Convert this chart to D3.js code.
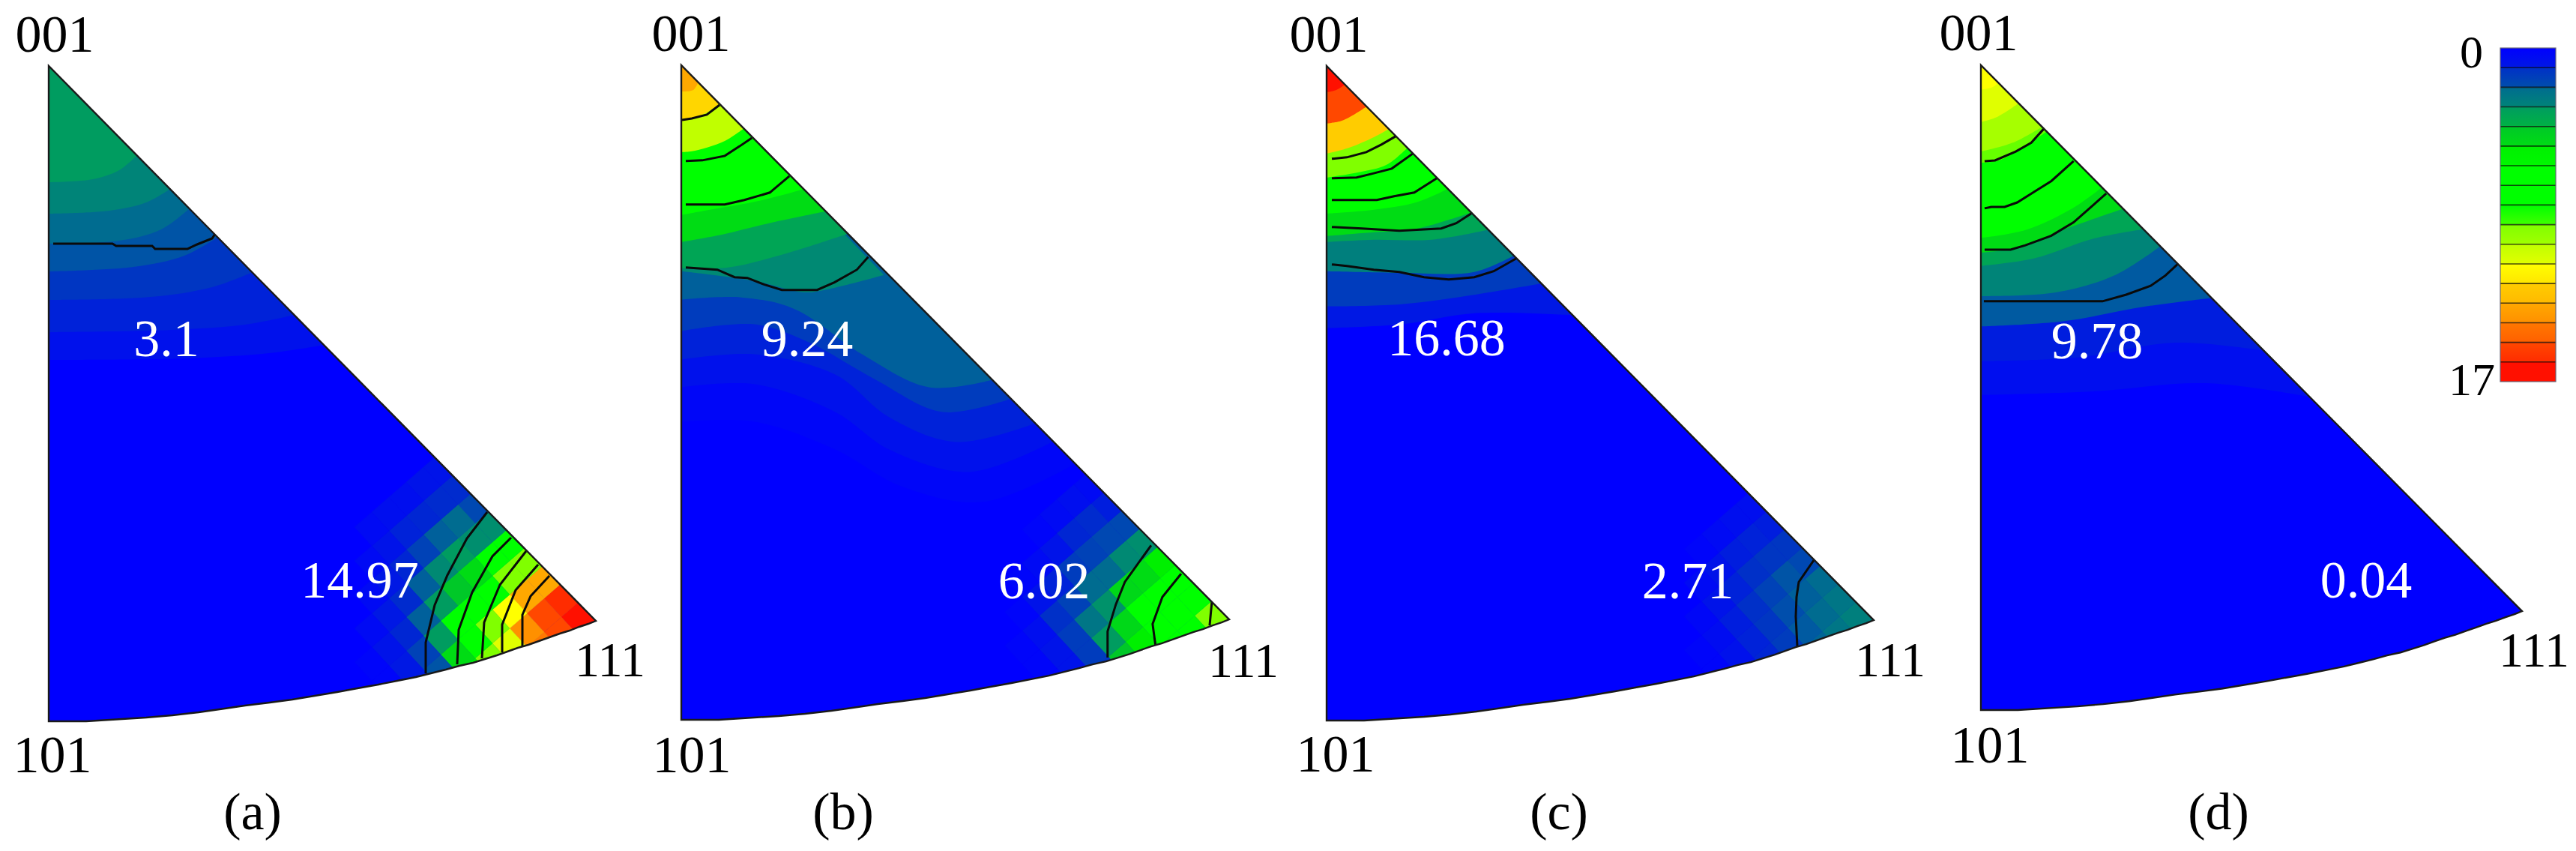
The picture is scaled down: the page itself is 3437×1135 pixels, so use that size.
<!DOCTYPE html>
<html>
<head>
<meta charset="utf-8">
<script src="https://cdnjs.cloudflare.com/ajax/libs/d3/7.8.5/d3.min.js"></script>
<style>
  html, body { margin: 0; padding: 0; background: #fff; }
  text { font-family: "Liberation Serif", serif; }
</style>
</head>
<body>
<div id="canvas"></div>
<script>
// colour key, level 0 at the top
var paletteColors = ["#0000ff","#0030c8","#006c90","#009c60","#00c828","#00f000","#00ff00","#00ff00","#00ff00","#80ff00","#c0ff00","#ffff00","#ffcc00","#ffa800","#ff7800","#ff4800","#ff1000"];
var keyLabels = ["0", "17"];

var panelNames = ["(a)", "(b)", "(c)", "(d)"];
var topValues = ["3.1", "9.24", "16.68", "9.78"];
var cornerValues = ["14.97", "6.02", "2.71", "0.04"];
var poleNames = ["001", "101", "111"];

// lower edge of the triangle, same for every panel
var lowerEdge = [[0,874],[50,874],[130,869],[165,866],[200,862],[235,857],[262,853],[295,849],[325,845],[355,840],[385,835],[412,830],[440,825],[465,820],[490,815],[510,810],[530,805],[548,800],[566,796],[582,791],[598,786],[612,781],[626,776],[640,772],[654,767],[668,762],[682,757],[695,753],[708,748],[720,744],[730,740]];

// bands around 001: [level, boundary from the left edge to the diagonal]
var bandsA = [
  [0.35,[[0,392],[184,390],[294,383],[368,372]]],
  [0.7,[[0,355],[164,352],[262,345],[328,332]]],
  [1.1,[[0,312],[136,308],[218,295],[272,275]]],
  [1.6,[[0,274],[113,268],[181,253],[226,228]]],
  [2.0,[[0,237],[94,233],[150,218],[188,190]]],
  [2.5,[[0,197],[81,193],[130,182],[162,164]]],
  [3.0,[[0,155],[59,151],[94,139],[118,119]]]
];
var bandsB = [
  [0.12,[[0,476],[98,476],[205,513],[295,563],[402,583],[525,532]]],
  [0.35,[[0,430],[98,426],[205,463],[277,513],[384,543],[496,502]]],
  [0.7,[[0,393],[98,386],[205,413],[277,470],[366,503],[472,478]]],
  [1.2,[[0,355],[98,346],[170,370],[259,420],[348,463],[440,445]]],
  [1.8,[[0,313],[80,310],[152,326],[241,386],[330,430],[415,420]]],
  [2.6,[[0,275],[98,288],[162,303],[191,300],[270,280]]],
  [3.2,[[0,271],[62,270],[134,253],[222,225]]],
  [4.5,[[0,236],[55,226],[121,210],[193,195]]],
  [7,[[0,200],[38,193],[104,181],[165,165]]],
  [10,[[0,116],[14,115],[58,101],[85,83]]],
  [11.8,[[0,75],[24,68],[53,50]]],
  [13,[[0,35],[16,33],[23,22]]]
];
var bandsC = [
  [0.5,[[0,350],[100,345],[200,330],[332,333]]],
  [1.2,[[0,321],[100,318],[200,305],[289,290]]],
  [2.4,[[0,274],[97,276],[197,275],[252,252]]],
  [3.2,[[0,235],[63,232],[140,232],[219,218]]],
  [4.5,[[0,227],[63,222],[117,218],[195,195]]],
  [7,[[0,197],[63,192],[120,182],[164,163]]],
  [9,[[0,149],[43,142],[80,132],[109,108]]],
  [12,[[0,117],[30,109],[63,95],[85,83]]],
  [15,[[0,77],[23,72],[55,53]]],
  [16,[[0,35],[13,32],[27,23]]]
];
var bandsD = [
  [0.3,[[0,447],[152,442],[303,431],[446,450]]],
  [0.6,[[0,401],[131,396],[263,376],[384,387]]],
  [1.7,[[0,354],[111,347],[222,327],[315,315]]],
  [2.5,[[0,313],[101,308],[182,284],[244,244]]],
  [3.2,[[0,272],[71,262],[152,235],[220,222]]],
  [4.5,[[0,254],[51,247],[111,223],[193,194]]],
  [7,[[0,234],[61,223],[125,193],[164,165]]],
  [8.8,[[0,132],[27,128],[90,89]]],
  [9.6,[[0,117],[43,105],[85,82]]],
  [10.5,[[0,77],[20,71],[53,50]]],
  [11,[[0,33],[15,30],[26,22]]]
];

// levels of the mosaic cells around 111, rows along the diagonal
var cornerA = [
  [16,15,14,11,8,5,2,0.8,0.2],
  [15.5,15,13.5,10.5,9,5,1.8,0.7,0.2],
  [13,13,11,9,8,4.5,1.6,0.6,0.1],
  [9,9,7,7,7,3,1.3,0.5,0.1],
  [7,7,4.5,4,3,1.8,0.8,0.4,0.1],
  [2.7,2.7,3,2.6,1.8,0.9,0.5,0.2,0],
  [1.4,2,1.8,1.3,0.8,0.5,0.2,0,0],
  [0.9,0.9,0.8,0.7,0.4,0.2,0,0,0],
  [0.4,0.4,0.3,0.3,0.2,0,0,0,0]
];
var cornerB = [
  [9,7,7,5,3,1.1,0.4,0.1],
  [8,8,7,5,4,1.1,0.4,0.1],
  [7,7.5,6,4.4,3,1.2,0.4,0.1],
  [5,4.5,4.4,2.8,2.2,1.2,0.4,0.1],
  [2.7,2.6,2,2,1.3,1,0.3,0.1],
  [1.4,1.4,1.3,1.2,0.7,0.4,0.1,0],
  [0.6,0.9,0.8,0.4,0.2,0.1,0,0],
  [0.2,0.3,0.2,0.1,0,0,0,0]
];
var cornerC = [
  [2.4,2.2,1.9,1.3,0.8,0.4,0.15],
  [2.2,2,1.7,1.2,0.8,0.4,0.15],
  [2,1.8,1.5,1.1,0.7,0.35,0.1],
  [1.4,1.6,1.3,1,0.6,0.25,0.1],
  [1.1,1.1,1,0.7,0.4,0.15,0],
  [0.6,0.7,0.6,0.4,0.2,0,0],
  [0.3,0.3,0.2,0.1,0,0,0]
];
var cornerD = [];

// contour lines
var linesA = [
  [[6,237],[85,237],[90,240],[138,240],[142,244],[185,244],[198,238],[218,230],[222,224]],
  [[503,810],[503,769],[515,719],[532,679],[558,630],[585,595]],
  [[545,798],[547,752],[565,702],[592,654],[617,629]],
  [[578,790],[581,742],[602,692],[637,647]],
  [[605,782],[605,745],[623,699],[653,665]],
  [[632,774],[632,732],[643,707],[668,680]]
];
var linesB = [
  [[1,73],[14,71],[34,66],[51,53]],
  [[6,128],[28,127],[58,121],[78,108],[94,97]],
  [[6,186],[58,186],[84,180],[118,170],[144,148]],
  [[6,270],[48,273],[71,283],[88,284],[111,293],[134,300],[181,300],[204,290],[234,273],[249,256]],
  [[568,791],[568,756],[579,720],[591,690],[626,641]],
  [[632,776],[628,746],[641,710],[666,679]],
  [[704,748],[707,716]]
];
var linesC = [
  [[7,124],[27,122],[53,115],[73,105],[92,94]],
  [[7,150],[40,149],[60,144],[87,137],[115,117]],
  [[7,179],[67,179],[90,174],[117,169],[147,150]],
  [[7,215],[47,217],[97,220],[153,217],[173,210],[193,197]],
  [[7,265],[27,267],[63,272],[97,275],[130,282],[163,285],[197,282],[223,274],[253,257]],
  [[628,775],[626,735],[627,709],[630,689],[650,660]]
];
var linesD = [
  [[5,130],[19,129],[47,117],[68,105],[85,86]],
  [[5,194],[14,192],[32,192],[49,186],[68,174],[95,157],[125,130]],
  [[5,250],[40,250],[60,244],[95,231],[125,213],[169,174]],
  [[4,320],[164,320],[196,311],[229,299],[249,285],[265,270]]
];

var allBands = [bandsA, bandsB, bandsC, bandsD];
var allCorners = [cornerA, cornerB, cornerC, cornerD];
var allLines = [linesA, linesB, linesC, linesD];

// where each panel sits on the page
var layout = [
  {x: 65, y: 88, w: 730, h: 874, pole001: [73, 69], pole101: [70, 1030], pole111: [814, 902], top: [222, 475], corner: [480, 797], name: [337, 1106]},
  {x: 909, y: 87, w: 731, h: 873, pole001: [922, 68], pole101: [923, 1030], pole111: [1659, 903], top: [1077, 475], corner: [1393, 798], name: [1125, 1106]},
  {x: 1770, y: 88, w: 730, h: 873, pole001: [1773, 69], pole101: [1782, 1029], pole111: [2522, 902], top: [1930, 474], corner: [2252, 798], name: [2080, 1106]},
  {x: 2643, y: 87, w: 722, h: 860, pole001: [2640, 67], pole101: [2655, 1017], pole111: [3381, 889], top: [2798, 478], corner: [3157, 797], name: [2960, 1106]}
];

var width = 3437, height = 1135;
var svg = d3.select("#canvas").append("svg")
  .attr("width", width)
  .attr("height", height)
  .style("display", "block");
var defs = svg.append("defs");

var levelColor = d3.scaleLinear()
  .domain(d3.range(paletteColors.length))
  .range(paletteColors)
  .interpolate(d3.interpolateRgb);

layout.forEach(function (p, n) {
  var x = d3.scaleLinear().domain([0, 730]).range([p.x, p.x + p.w]);
  var y = d3.scaleLinear().domain([0, 874]).range([p.y, p.y + p.h]);
  var g = svg.append("g");

  var line = d3.line().x(function (d) { return x(d[0]); }).y(function (d) { return y(d[1]); });
  var smooth = d3.line().x(function (d) { return x(d[0]); }).y(function (d) { return y(d[1]); }).curve(d3.curveCatmullRom);

  var outline = line([[0, 0]].concat(lowerEdge)) + "Z";
  var apex = "L" + x(0) + "," + y(0) + "Z";

  defs.append("clipPath").attr("id", "clip" + n).append("path").attr("d", outline);
  var inner = g.append("g").attr("clip-path", "url(#clip" + n + ")");

  inner.append("path").attr("d", outline).attr("fill", levelColor(0));

  inner.selectAll(".band")
    .data(allBands[n])
    .enter()
    .append("path")
    .attr("class", "band")
    .attr("d", function (d) { return smooth(d[1]) + apex; })
    .attr("fill", function (d) { return levelColor(d[0]); });

  // mosaic cells, step sizes are along the diagonal and across it
  var cells = [];
  allCorners[n].forEach(function (row, i) {
    row.forEach(function (v, j) {
      if (v > 0) cells.push({i: i, j: j, v: v});
    });
  });
  var tip = lowerEdge[lowerEdge.length - 1];
  function cellPoint(i, j) {
    return [tip[0] - 23 * i - 23 * j, tip[1] - 25 * i + 20 * j];
  }
  inner.selectAll(".cell")
    .data(cells)
    .enter()
    .append("path")
    .attr("class", "cell")
    .attr("d", function (c) {
      return line([cellPoint(c.i, c.j), cellPoint(c.i + 1, c.j), cellPoint(c.i + 1, c.j + 1), cellPoint(c.i, c.j + 1)]) + "Z";
    })
    .attr("fill", function (c) { return levelColor(c.v); })
    .attr("stroke", function (c) { return levelColor(c.v); })
    .attr("stroke-width", 0.6);

  inner.selectAll(".contour")
    .data(allLines[n])
    .enter()
    .append("path")
    .attr("class", "contour")
    .attr("d", line)
    .attr("fill", "none")
    .attr("stroke", "#0a0a0a")
    .attr("stroke-width", 3);

  g.append("path")
    .attr("d", outline)
    .attr("fill", "none")
    .attr("stroke", "#1a1a1a")
    .attr("stroke-width", 2.4);

  // labels
  var labels = [
    [poleNames[0], p.pole001, 70, "#000"],
    [poleNames[1], p.pole101, 70, "#000"],
    [poleNames[2], p.pole111, 66, "#000"],
    [topValues[n], p.top, 70, "#fff"],
    [cornerValues[n], p.corner, 70, "#fff"],
    [panelNames[n], p.name, 70, "#000"]
  ];
  g.selectAll(".label")
    .data(labels)
    .enter()
    .append("text")
    .attr("class", "label")
    .attr("x", function (d) { return d[1][0]; })
    .attr("y", function (d) { return d[1][1]; })
    .attr("text-anchor", "middle")
    .attr("font-size", function (d) { return d[2]; })
    .attr("fill", function (d) { return d[3]; })
    .text(function (d) { return d[0]; });
});

// colour key
var keyY = d3.scaleBand().domain(d3.range(paletteColors.length)).range([64, 509]);
var key = svg.append("g");
paletteColors.forEach(function (c, i) {
  var grad = defs.append("linearGradient").attr("id", "key" + i).attr("x1", 0).attr("x2", 0).attr("y1", 0).attr("y2", 1);
  grad.append("stop").attr("offset", 0).attr("stop-color", c);
  grad.append("stop").attr("offset", 1).attr("stop-color", levelColor(Math.min(i + 0.5, paletteColors.length - 1)));
});
key.selectAll("rect.cell")
  .data(d3.range(paletteColors.length))
  .enter()
  .append("rect")
  .attr("class", "cell")
  .attr("x", 3336)
  .attr("y", function (d) { return keyY(d); })
  .attr("width", 74)
  .attr("height", keyY.bandwidth())
  .attr("fill", function (d) { return "url(#key" + d + ")"; });
key.selectAll("line.sep")
  .data(d3.range(1, paletteColors.length))
  .enter()
  .append("line")
  .attr("class", "sep")
  .attr("x1", 3336)
  .attr("x2", 3410)
  .attr("y1", function (d) { return keyY(d); })
  .attr("y2", function (d) { return keyY(d); })
  .attr("stroke", "#000")
  .attr("stroke-opacity", 0.7)
  .attr("stroke-width", 1.6);
key.append("rect")
  .attr("x", 3336).attr("y", 64).attr("width", 74).attr("height", 445)
  .attr("fill", "none").attr("stroke", "#667").attr("stroke-width", 1.2);
key.append("text").attr("x", 3327).attr("y", 90).attr("text-anchor", "end").attr("dx", -14).attr("font-size", 62).text(keyLabels[0]);
key.append("text").attr("x", 3329).attr("y", 527).attr("text-anchor", "end").attr("font-size", 62).text(keyLabels[1]);
</script>
</body>
</html>
